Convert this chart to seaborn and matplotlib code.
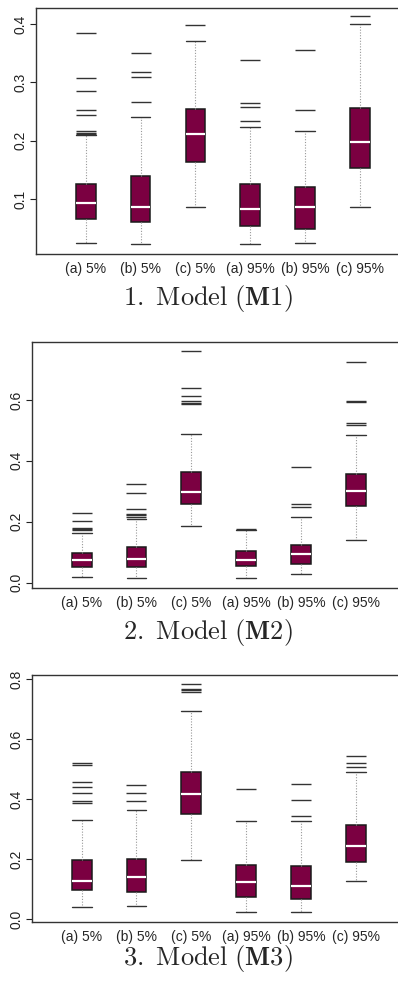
import numpy as np
import matplotlib
matplotlib.use("Agg")
import matplotlib.pyplot as plt
from matplotlib.ticker import FormatStrFormatter
import seaborn as sns

sns.set_style("ticks")
plt.rcParams['font.family'] = ['Liberation Sans', 'DejaVu Sans']
plt.rcParams['mathtext.fontset'] = 'cm'

labels = ["(a) 5%", "(b) 5%", "(c) 5%", "(a) 95%", "(b) 95%", "(c) 95%"]

# model M1: lower whisker, q1, median, q3, upper whisker, outliers
m1_low = [0.025, 0.022, 0.086, 0.022, 0.024, 0.087]
m1_q1 = [0.065, 0.060, 0.163, 0.053, 0.049, 0.154]
m1_med = [0.093, 0.087, 0.211, 0.083, 0.086, 0.197]
m1_q3 = [0.125, 0.140, 0.254, 0.125, 0.121, 0.256]
m1_high = [0.210, 0.241, 0.371, 0.223, 0.217, 0.400]
m1_out = [[0.384, 0.308, 0.286, 0.253, 0.244, 0.217, 0.214, 0.212],
          [0.350, 0.317, 0.309, 0.266],
          [0.398],
          [0.338, 0.265, 0.257, 0.233],
          [0.355, 0.252],
          [0.413]]

# model M2
m2_low = [0.020, 0.016, 0.186, 0.014, 0.029, 0.141]
m2_q1 = [0.050, 0.053, 0.259, 0.054, 0.060, 0.252]
m2_med = [0.074, 0.079, 0.297, 0.074, 0.094, 0.300]
m2_q3 = [0.099, 0.116, 0.362, 0.103, 0.125, 0.356]
m2_high = [0.164, 0.208, 0.488, 0.173, 0.217, 0.486]
m2_out = [[0.230, 0.203, 0.180, 0.175, 0.172],
          [0.323, 0.293, 0.242, 0.227, 0.221, 0.216],
          [0.762, 0.638, 0.614, 0.596, 0.590, 0.587],
          [0.177],
          [0.380, 0.257, 0.250],
          [0.724, 0.598, 0.592, 0.525, 0.518]]

# model M3
m3_low = [0.041, 0.044, 0.199, 0.024, 0.026, 0.129]
m3_q1 = [0.098, 0.091, 0.351, 0.073, 0.069, 0.191]
m3_med = [0.129, 0.142, 0.419, 0.124, 0.112, 0.246]
m3_q3 = [0.198, 0.201, 0.490, 0.180, 0.177, 0.313]
m3_high = [0.331, 0.366, 0.696, 0.329, 0.327, 0.490]
m3_out = [[0.520, 0.513, 0.457, 0.441, 0.420, 0.396, 0.389],
          [0.447, 0.422, 0.393],
          [0.783, 0.769, 0.763, 0.757],
          [0.436],
          [0.451, 0.398, 0.346],
          [0.543, 0.520, 0.507]]

models = [
    (m1_low, m1_q1, m1_med, m1_q3, m1_high, m1_out),
    (m2_low, m2_q1, m2_med, m2_q3, m2_high, m2_out),
    (m3_low, m3_q1, m3_med, m3_q3, m3_high, m3_out),
]
captions = [r"$\mathrm{1.\ Model}\ \mathbf{(M1)}$",
            r"$\mathrm{2.\ Model}\ \mathbf{(M2)}$",
            r"$\mathrm{3.\ Model}\ \mathbf{(M3)}$"]
yticks = [[0.1, 0.2, 0.3, 0.4], [0.0, 0.2, 0.4, 0.6], [0.0, 0.2, 0.4, 0.6, 0.8]]
ylims = [(0.0057, 0.427), (-0.0164, 0.791), (-0.0078, 0.8144)]

W, H = 398, 981
# pixel boxes: left, top, bottom, right
boxes_px = [(36, 8.3, 254, 409.4), (31.7, 341.7, 587.7, 405), (31.7, 675, 921.7, 405)]
xlims = [(-0.905, 5.9), (-0.912, 5.9), (-0.912, 5.9)]
cap_y = [298, 632, 958]

fill = "#7b0041"

fig = plt.figure(figsize=(W / 100, H / 100), dpi=100)

for i, (low, q1, med, q3, high, out) in enumerate(models):
    l, t, b, r = boxes_px[i]
    ax = fig.add_axes([l / W, 1 - b / H, (r - l) / W, (b - t) / H])
    stats = []
    for j in range(6):
        stats.append(dict(whislo=low[j], q1=q1[j], med=med[j], q3=q3[j],
                          whishi=high[j], fliers=out[j], label=labels[j]))
    ax.bxp(stats, positions=range(6), widths=0.36, capwidths=0.36,
           patch_artist=True, showfliers=True,
           boxprops=dict(facecolor=fill, edgecolor="#1a1a1a", linewidth=1.1),
           medianprops=dict(color="white", linewidth=1.6),
           whiskerprops=dict(color="#999999", linestyle=(0, (1, 1.5)), linewidth=0.8),
           capprops=dict(color="#333333", linewidth=1.0),
           flierprops=dict(marker="_", markersize=14, markeredgewidth=1.0,
                           markeredgecolor="#333333"))
    ax.set_xlim(*xlims[i])
    ax.set_ylim(*ylims[i])
    ax.set_yticks(yticks[i])
    ax.yaxis.set_major_formatter(FormatStrFormatter('%.1f'))
    ax.set_xticks(range(6))
    ax.set_xticklabels(labels, fontsize=10)
    ax.tick_params(axis='x', length=0, pad=6)
    ax.tick_params(axis='y', length=4, width=0.8, pad=2, labelsize=10, colors="#222222")
    for lab in ax.get_yticklabels():
        lab.set_rotation(90)
        lab.set_va('center')
    for s in ["left", "top", "bottom"]:
        ax.spines[s].set_visible(True)
        ax.spines[s].set_color("#333333")
        ax.spines[s].set_linewidth(1.0)
    ax.spines["right"].set_visible(False)
    fig.text(208 / W, 1 - cap_y[i] / H, captions[i], fontsize=19,
             ha='center', va='center')

fig.savefig("out.png", dpi=100)
